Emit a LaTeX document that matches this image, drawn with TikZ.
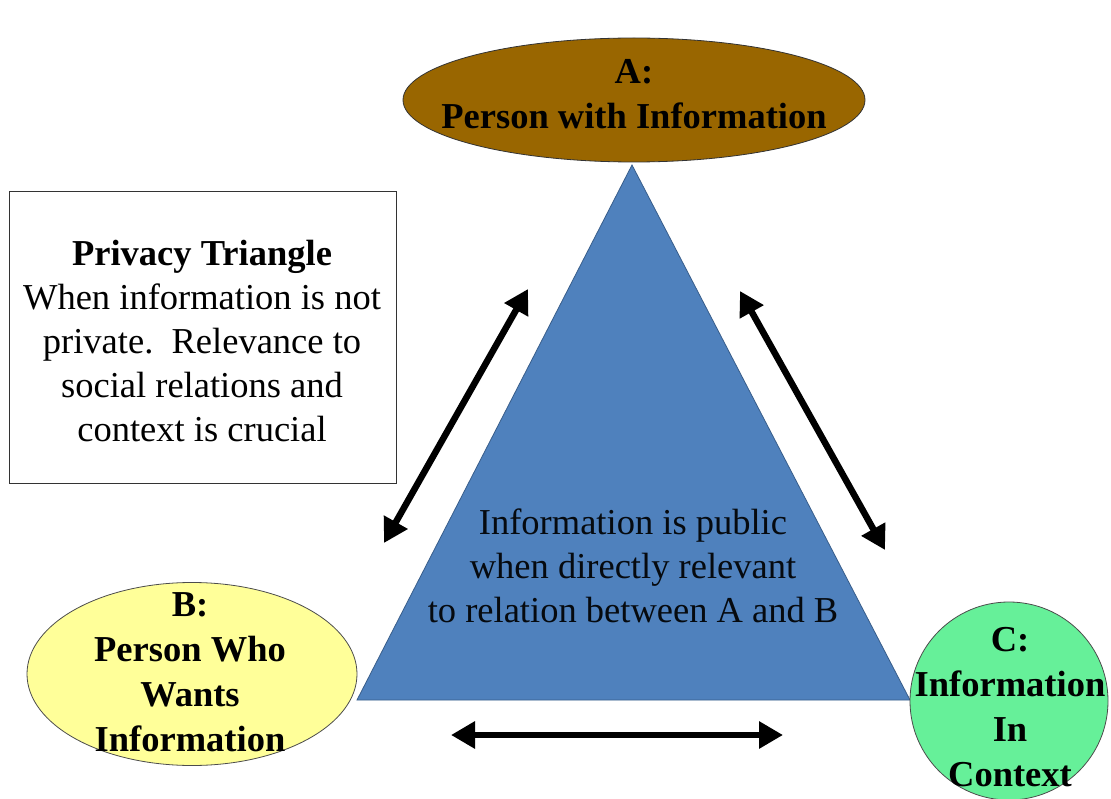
\documentclass[tikz,border=0pt]{standalone}
\usepackage{fontspec}
\setmainfont{Liberation Serif}
\usetikzlibrary{shapes.geometric,arrows.meta}
\definecolor{abrown}{RGB}{153,102,0}
\definecolor{byellow}{RGB}{255,255,153}
\definecolor{cgreen}{RGB}{102,240,153}
\definecolor{triblue}{RGB}{79,129,189}
\definecolor{triedge}{RGB}{56,93,138}
\tikzset{
  bigtext/.style={font=\fontsize{36.5}{44}\selectfont, align=center, inner sep=0pt},
  boldtext/.style={font=\fontsize{36.5}{45}\selectfont\bfseries, align=center, inner sep=0pt},
  dbl/.style={line width=6.5pt, {Triangle[length=24pt,width=26pt]}-{Triangle[length=24pt,width=26pt]}},
}
\begin{document}
\begin{tikzpicture}[x=1pt,y=-1pt]
\useasboundingbox (0,0) rectangle (1111,799);
\fill[white] (0,0) rectangle (1111,799);
% triangle
\coordinate (apex) at (632,165);
\coordinate (bl) at (357,700);
\coordinate (br) at (910,700);
\draw[fill=triblue, draw=triedge, line width=0.8pt] (apex) -- (bl) -- (br) -- cycle;
\node[bigtext, text=black!92!triblue] (tritext) at (633,566) {Information is public\\when directly relevant\\to relation between A and B};
% ellipse A
\node[ellipse, draw=black!80, line width=0.8pt, fill=abrown, minimum width=462pt, minimum height=124pt, inner sep=0pt] (A) at (634,100) {};
\node[boldtext] (Atext) at (634,94) {A:\\Person with Information};
% ellipse B
\node[ellipse, draw=black!70, line width=0.8pt, fill=byellow, minimum width=330pt, minimum height=183pt, inner sep=0pt] (B) at (192,674) {};
\node[boldtext] (Btext) at (190,672) {B:\\Person Who\\Wants\\Information};
% circle C
\node[circle, draw=black!70, line width=0.8pt, fill=cgreen, minimum size=198pt, inner sep=0pt] (C) at (1009,701) {};
\node[boldtext] (Ctext) at (1010,707) {C:\\Information\\In\\Context};
% box
\node[draw=black!80, line width=1pt, minimum width=387pt, minimum height=291pt, inner sep=0pt] (box) at (202.5,337.5) {};
\node[bigtext] (boxtext) at (202,341) {\textbf{Privacy Triangle}\\When information is not\\private.\ \ Relevance to\\social relations and\\context is crucial};
% arrows
\coordinate (l1) at (384,543);
\coordinate (l2) at (528,289);
\coordinate (r1) at (740,291);
\coordinate (r2) at (885,550);
\coordinate (b1) at (451,735);
\coordinate (b2) at (783,735);
\draw[dbl] (l1) -- (l2);
\draw[dbl] (r1) -- (r2);
\draw[dbl] (b1) -- (b2);
\end{tikzpicture}
\end{document}
